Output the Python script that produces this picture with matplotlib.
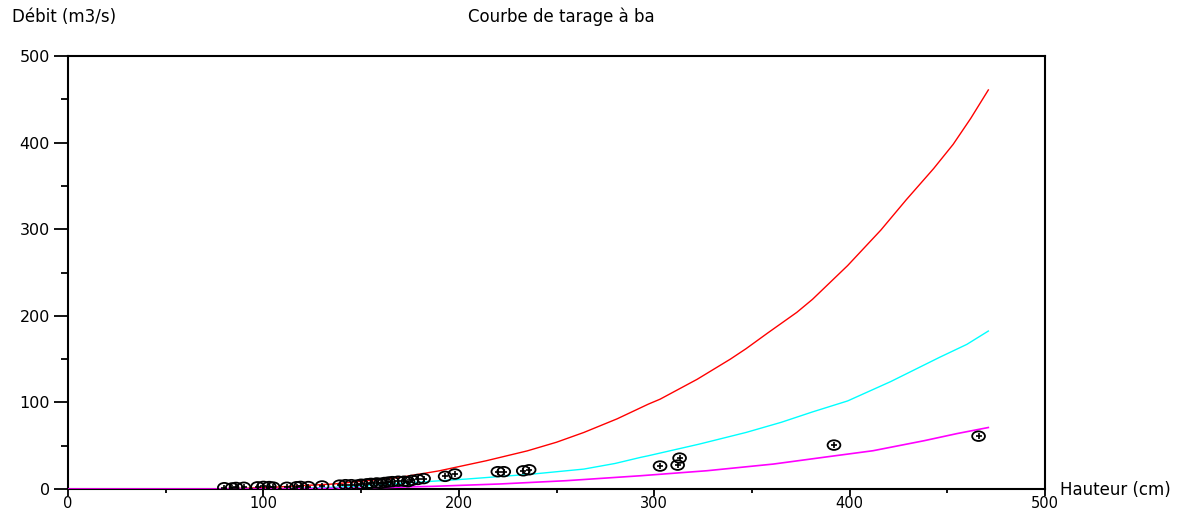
import matplotlib
matplotlib.use("Agg")
import matplotlib.pyplot as plt
from matplotlib.ticker import MultipleLocator
from matplotlib.path import Path
from matplotlib.transforms import Affine2D

# Observed gaugings (hauteur cm, débit m3/s)
obs_h = [80, 84, 86, 90, 97, 100, 103, 105, 112, 117, 119, 123, 130, 139, 142, 145, 148, 150,
         153, 155, 158, 160, 162, 164, 166, 169, 172, 174, 176, 179, 182,
         193, 198, 220, 223, 233, 236, 303, 312, 313, 392, 466]
obs_q = [1.5, 1.2, 1.8, 2.0, 2.5, 3.0, 2.8, 2.2, 2.0, 2.6, 3.0, 2.8, 3.5, 4.5, 5.0, 5.0, 4.5, 5.5,
         6.0, 6.5, 7.0, 6.5, 7.5, 8.0, 8.5, 9.0, 9.0, 8.5, 10.0, 11.0, 12.0,
         14.6, 17.3, 20.0, 20.0, 21.0, 22.2, 26.5, 27.6, 35.7, 50.7, 61.0]

# Rating curves
red_h = [0, 70, 90, 105, 119, 136, 153, 170, 190, 214, 235, 250, 264, 281, 297, 303, 322,
         339, 347, 358, 373, 381, 399, 416, 429, 443, 453, 462, 471]
red_q = [0, 0, 0.8, 2.0, 3.8, 5.8, 9.6, 13.4, 21, 32.6, 44, 54, 65.3, 81, 98, 103.7, 126.7,
         150, 162, 180, 204, 219, 258, 299, 334, 370, 398, 428, 460.8]
cyan_h = [0, 100, 120, 136, 153, 178, 204, 238, 264, 280, 293, 297, 323, 347, 365, 381, 399,
          421, 446, 460, 471]
cyan_q = [0, 0, 0.8, 2.0, 3.8, 7.7, 11.5, 17.3, 23, 29.5, 36.5, 38.4, 51.8, 65.3, 77, 89,
          101.7, 124, 152, 167, 182.4]
mag_h = [0, 110, 153, 187, 221, 255, 293, 327, 361, 388, 412, 438, 455, 471]
mag_q = [0, 0, 1.2, 3.1, 5.8, 9.6, 15.3, 21.1, 28.8, 37, 44.2, 55.7, 64, 71]

x_ticks = [0, 100, 200, 300, 400, 500]
y_ticks = [0, 100, 200, 300, 400, 500]

plt.rcParams['font.family'] = ['DejaVu Sans']

fig = plt.figure(figsize=(12.02, 5.13), dpi=100)
ax = fig.add_axes([68/1202, 1-489/513, (1045-68)/1202, (489-56)/513])

ellipse = Path.unit_circle().transformed(Affine2D().scale(1.0, 0.75))

ax.plot(red_h, red_q, color='#ff0000', lw=1.0, zorder=2)
ax.plot(cyan_h, cyan_q, color='#00ffff', lw=1.0, zorder=2)
ax.plot(mag_h, mag_q, color='#ff00ff', lw=1.2, zorder=3)
ax.scatter(obs_h, obs_q, s=85, marker=ellipse, facecolors='none', edgecolors='black',
           linewidths=1.3, zorder=4)
ax.scatter(obs_h, obs_q, s=16, marker='+', color='black', linewidths=1.2, zorder=4)

ax.set_xlim(0, 500)
ax.set_ylim(0, 500)
ax.set_xticks(x_ticks)
ax.set_yticks(y_ticks)
ax.xaxis.set_minor_locator(MultipleLocator(50))
ax.yaxis.set_minor_locator(MultipleLocator(50))
ax.tick_params(axis='x', which='major', length=5, width=1.3, direction='out', labelsize=10.5, pad=0)
ax.tick_params(axis='x', which='minor', length=2.6, width=1.3, direction='out')
ax.tick_params(axis='y', which='major', length=10, width=1.3, direction='out', labelsize=11.5, pad=3)
ax.tick_params(axis='y', which='minor', length=5, width=1.3, direction='out')
for s in ax.spines.values():
    s.set_linewidth(1.5)
    s.set_color('black')

fig.text(12/1202, 1-17/513, 'Débit (m3/s)', fontsize=12, ha='left', va='center')
fig.text(561/1202, 1-17/513, 'Courbe de tarage à ba', fontsize=12, ha='center', va='center')
fig.text(1060/1202, 1-490/513, 'Hauteur (cm)', fontsize=12, ha='left', va='center')

fig.savefig('out.png', dpi=100)
